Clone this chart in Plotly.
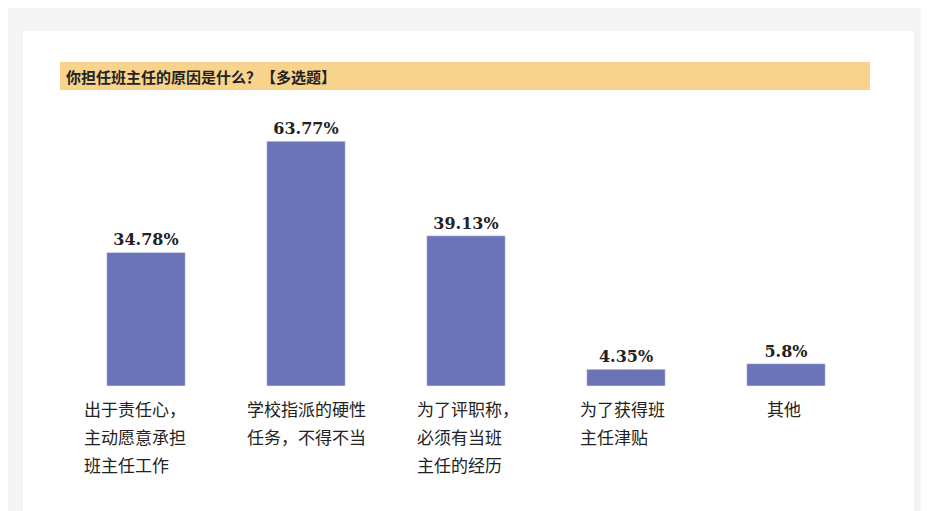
import plotly.graph_objects as go

categories = [["出于责任心，", "主动愿意承担", "班主任工作"], ["学校指派的硬性", "任务，不得不当"],
              ["为了评职称，", "必须有当班", "主任的经历"], ["为了获得班", "主任津贴"], ["其他"]]
values = [34.78, 63.77, 39.13, 4.35, 5.8]
value_labels = ["34.78%", "63.77%", "39.13%", "4.35%", "5.8%"]
label_shift = [-64, -61, -51, -48, -21]

O = 8  # page offset
W, H = 929, 511
def px(x): return (x - O) / W
def py(y): return 1 - (y - O) / H

fig = go.Figure()
fig.add_trace(go.Bar(x=list(range(5)), y=values, marker_color="#6b74b6", width=0.49,
                     text=value_labels, textposition="outside", cliponaxis=False,
                     textfont=dict(family="DejaVu Serif", size=16, color="#222")))
fig.update_traces(texttemplate="<b>%{text}</b>")
for i, lines in enumerate(categories):
    for j, line in enumerate(lines):
        fig.add_annotation(x=i, y=py(394 + 28 * j), xref="x", yref="paper", text=line, showarrow=False,
                           xanchor="left", yanchor="top", xshift=label_shift[i], align="left",
                           font=dict(family="Noto Sans CJK SC", size=17, color="#222"))
fig.add_shape(type="rect", xref="paper", yref="paper", x0=px(22), x1=px(915), y0=-0.1, y1=py(30),
              fillcolor="white", line=dict(color="#ececec", width=1), layer="below")
fig.add_shape(type="rect", xref="paper", yref="paper", x0=px(60), x1=px(870), y0=py(90), y1=py(62),
              fillcolor="#f8d38c", line_width=0, layer="below")
fig.add_annotation(x=px(64), y=py(76), xref="paper", yref="paper", xanchor="left", yanchor="middle",
                   text="<b>你担任班主任的原因是什么？【多选题】</b>", showarrow=False,
                   font=dict(family="Noto Sans CJK SC", size=15, color="#222"))
fig.update_layout(width=W, height=H, margin=dict(l=0, r=0, t=0, b=0), showlegend=False,
                  paper_bgcolor="#f5f5f5", plot_bgcolor="rgba(0,0,0,0)",
                  xaxis=dict(domain=[px(66), px(866)], range=[-0.5, 4.5], visible=False),
                  yaxis=dict(domain=[py(386), py(110)], range=[0, 71.9], visible=False))
fig.write_html("out.html")
